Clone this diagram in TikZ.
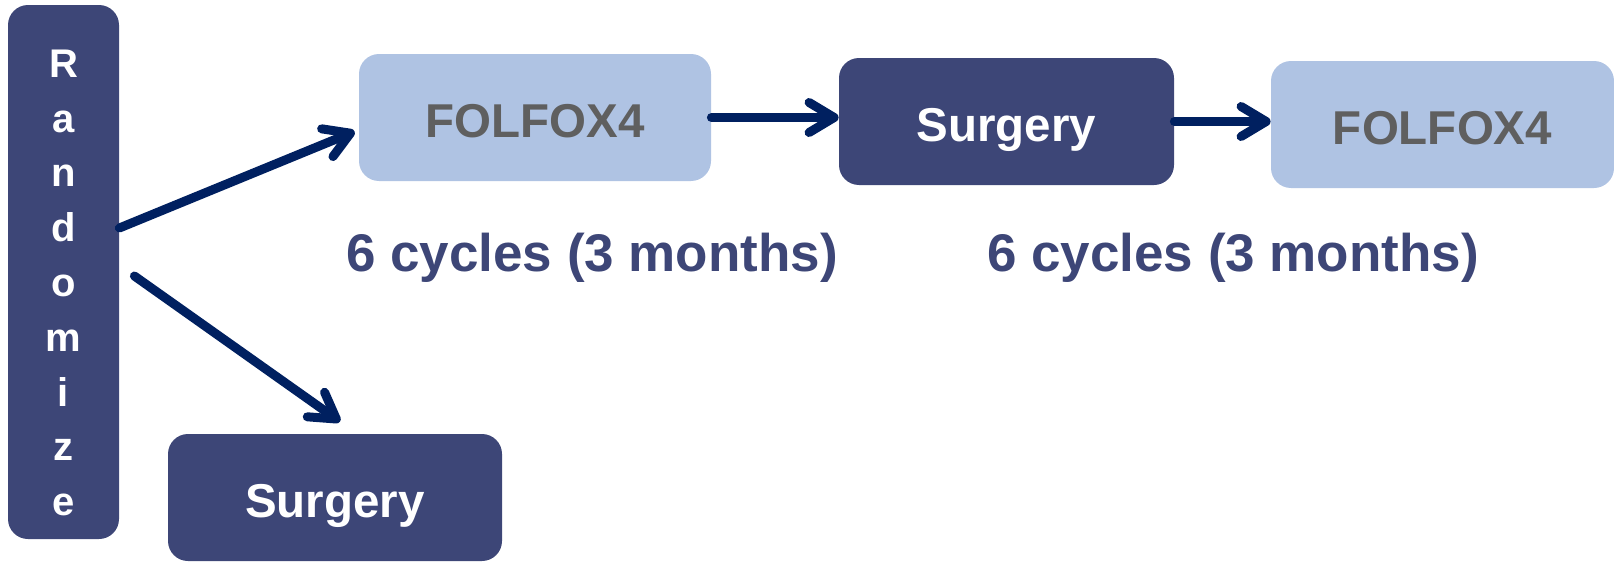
\documentclass[tikz,border=0pt]{standalone}
\usepackage{fontspec}
\setmainfont{Liberation Sans}
\usepackage{tikz}
\usetikzlibrary{positioning, arrows.meta}
\definecolor{boxdark}{HTML}{3D4677}
\definecolor{boxlight}{HTML}{AFC3E3}
\definecolor{arrowblue}{HTML}{002060}
\definecolor{textgray}{HTML}{5F5F5F}
\tikzset{
  darkbox/.style={fill=boxdark, rounded corners=10pt, inner sep=0pt, text=white,
    font=\fontsize{23.75}{28}\selectfont\bfseries, text height=19.5pt, text depth=0pt},
  lightbox/.style={fill=boxlight, rounded corners=10pt, inner sep=0pt, text=textgray,
    font=\fontsize{23.75}{28}\selectfont\bfseries, text height=19.5pt, text depth=0pt},
  stagebox/.style={minimum width=#1, minimum height=63.5pt},
  cyclelabel/.style={text=boxdark, font=\fontsize{26.5}{30}\selectfont\bfseries},
  arr/.style={draw=arrowblue, line width=4.5pt, line cap=round, line join=round,
    -{Straight Barb[length=12.5pt, width=15pt, line cap=round, line join=round]}}
}
\begin{document}
\begin{tikzpicture}[x=0.5pt, y=-0.5pt]
        \useasboundingbox (0,0) rectangle (1614,562);
        % Boxes
        \node[darkbox, minimum width=55.5pt, minimum height=267pt] (rand) at (63.5,272) {};
        \node[text=white, align=center, inner sep=0pt,
          font=\fontsize{20}{27.4}\selectfont\bfseries] (randtxt) at ([yshift=-5.5pt]rand.center)
          {R\\a\\n\\d\\o\\m\\i\\z\\e};
        \node[lightbox, stagebox=176pt] (fol1) at (535,117.5) {FOLFOX4};
        \node[darkbox, stagebox=167.5pt] (surg1) at (1006.5,121.5) {Surgery};
        \node[lightbox, stagebox=171.5pt] (fol2) at (1442.5,124.5) {FOLFOX4};
        \node[darkbox, stagebox=167pt] (surg2) at (335,497.5) {Surgery};
        % Arrows
        \draw[arr] ([yshift=22pt]rand.east) -- ([xshift=-2pt,yshift=-7pt]fol1.west);
        \draw[arr] ([xshift=7.5pt,yshift=-2pt]rand.east) -- ([xshift=2.5pt,yshift=6pt]surg2.north);
        \draw[arr] (fol1.east) -- (surg1.west |- fol1.east);
        \draw[arr] (surg1.east) -- (fol2.west |- surg1.east);
        % Labels under the boxes
        \node[cyclelabel] (cyc1) at (592,257.5) {6 cycles (3 months)};
        \node[cyclelabel] (cyc2) at (1233,257.5) {6 cycles (3 months)};
    \end{tikzpicture}
\end{document}
